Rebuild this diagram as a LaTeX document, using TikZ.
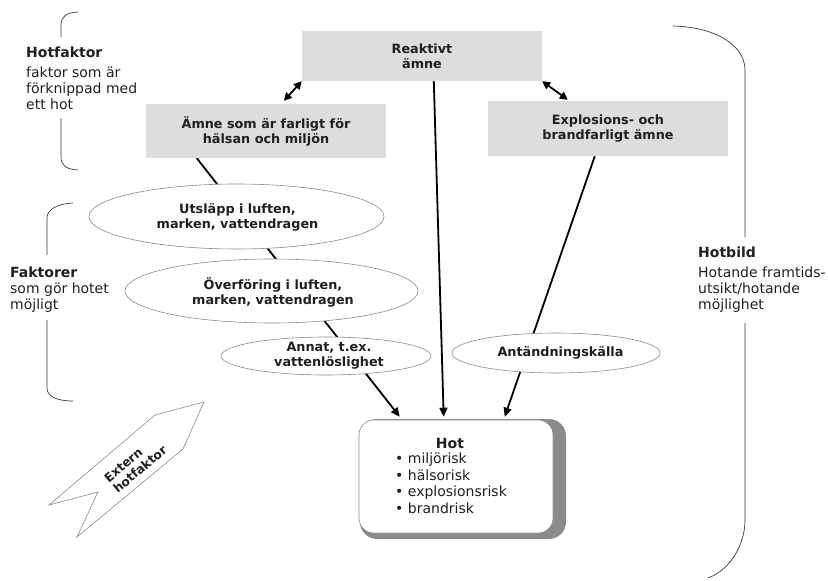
\documentclass[tikz,border=0pt]{standalone}
\usepackage{fontspec}
\setmainfont{DejaVu Sans}
\usetikzlibrary{shapes.geometric,arrows.meta,calc,backgrounds}

\definecolor{ink}{HTML}{231F20}
\definecolor{boxgray}{HTML}{DCDDDF}
\definecolor{shadowgray}{HTML}{8B8B8D}
\definecolor{edgegray}{HTML}{8C8C8C}
\definecolor{bracegray}{HTML}{3A3A3A}

\tikzset{
  every node/.style={text=ink, inner sep=0pt},
  greybox/.style={fill=boxgray, draw=none, align=center,
    font=\fontsize{12.8}{15}\selectfont\bfseries},
  oval/.style={ellipse, draw=edgegray, line width=0.6pt, fill=white},
  ovaltext/.style={align=center, font=\fontsize{12.8}{15}\selectfont\bfseries},
  conn/.style={line width=1.8pt, draw=black},
  tip/.style={conn, -{Triangle[length=9pt,width=8pt]}},
  dbl/.style={conn, {Triangle[length=8pt,width=8pt]}-{Triangle[length=8pt,width=8pt]}},
  brace/.style={draw=bracegray, line width=0.7pt},
  sidetext/.style={align=left, anchor=north west,
    font=\fontsize{14}{16}\selectfont},
  hotbox/.style={draw=edgegray, fill=white, line width=0.6pt, rounded corners=15pt},
  arrowshape/.style={draw=edgegray, line width=0.6pt, line join=miter},
}

\begin{document}
\begin{tikzpicture}[x=1pt, y=-1pt]
\useasboundingbox (0,0) rectangle (828,581);

% substance boxes
\node[greybox, minimum width=240, minimum height=50] (react) at (422,56) {Reaktivt\\ämne};
\node[greybox, minimum width=240, minimum height=54] (halsa) at (266,131) {Ämne som är farligt för\\hälsan och miljön};
\node[greybox, minimum width=240, minimum height=55] (explo) at (608,128.5) {Explosions- och\\brandfarligt ämne};

% enabling factors
\node[oval, minimum width=295, minimum height=65] (utslapp) at (236.5,216.5) {};
\node[ovaltext] (utslappT) at (237.5,217) {Utsläpp i luften,\\marken, vattendragen};
\node[oval, minimum width=293, minimum height=64] (overf) at (271.5,291) {};
\node[ovaltext] (overfT) at (273,292) {Överföring i luften,\\marken, vattendragen};
\node[oval, minimum width=210, minimum height=38] (annat) at (326,356) {};
\node[ovaltext] (annatT) at (329,356) {Annat, t.ex.\\vattenlöslighet};
\node[oval, minimum width=208, minimum height=40] (antand) at (556,353) {};
\node[ovaltext] (antandT) at (560.5,353) {Antändningskälla};

% threat box with shadow
\fill[shadowgray, rounded corners=17pt] (360,419) rectangle (566,539);
\node[hotbox, minimum width=194, minimum height=113] (hot) at (456,476.5) {};
\node[font=\fontsize{14}{16}\selectfont\bfseries] (hottitle) at (450,443) {Hot};
\node[align=left, anchor=north west, font=\fontsize{14}{16.4}\selectfont] (hotlist) at (395,453)
  {• miljörisk\\• hälsorisk\\• explosionsrisk\\• brandrisk};

% connectors, kept behind the ovals
\begin{pgfonlayer}{background}
  \draw[tip] ($(halsa.south west)+(51,0)$) -- ($(hot.north west)+(41,-3)$);
  \draw[tip] ($(react.south west)+(132,0)$) -- ($(hot.north west)+(85,-3)$);
  \draw[tip] ($(explo.south west)+(107,0)$) -- ($(hot.north west)+(146,-3)$);
\end{pgfonlayer}
\draw[dbl] ($(halsa.north west)+(138,-3)$) -- (react.south west);
\draw[dbl] (react.south east) -- ($(explo.north west)+(80,-1)$);

% side brackets
\draw[brace] (78,12) .. controls (66,12.5) and (61,17) .. (61,25) -- (61,37);
\draw[brace] (61,118) -- (61,157) .. controls (61,165) and (66,169.5) .. (78,170);
\draw[brace] (73,203) .. controls (56,204) and (47,210) .. (47,218) -- (47,255);
\draw[brace] (47,320) -- (47,388) .. controls (47,396) and (56,401) .. (73,401);
\draw[brace] (673,26) .. controls (715,27) and (745,45) .. (745,70) -- (745,237);
\draw[brace] (745,323) -- (745,520) .. controls (745,545) and (730,570) .. (708,578);

% side labels
\node[sidetext] (hotfaktor) at (26,46.4) {\textbf{Hotfaktor}\\[4pt]faktor som är\\förknippad med\\ett hot};
\node[sidetext] (faktorer) at (10,266.4) {\textbf{Faktorer}\\som gör hotet\\möjligt};
\node[sidetext] (hotbild) at (698,247) {\textbf{Hotbild}\\[4pt]Hotande framtids-\\utsikt/hotande\\möjlighet};

% external factor pointer
\draw[arrowshape] (204,402) -- (155,415) -- (49,505) -- (98,492) -- (77,537) -- (183,449) -- cycle;
\node[align=left, rotate=40, font=\fontsize{12.3}{14}\selectfont\bfseries] (extern) at (135.5,464) {Extern\\hotfaktor};
\end{tikzpicture}
\end{document}
